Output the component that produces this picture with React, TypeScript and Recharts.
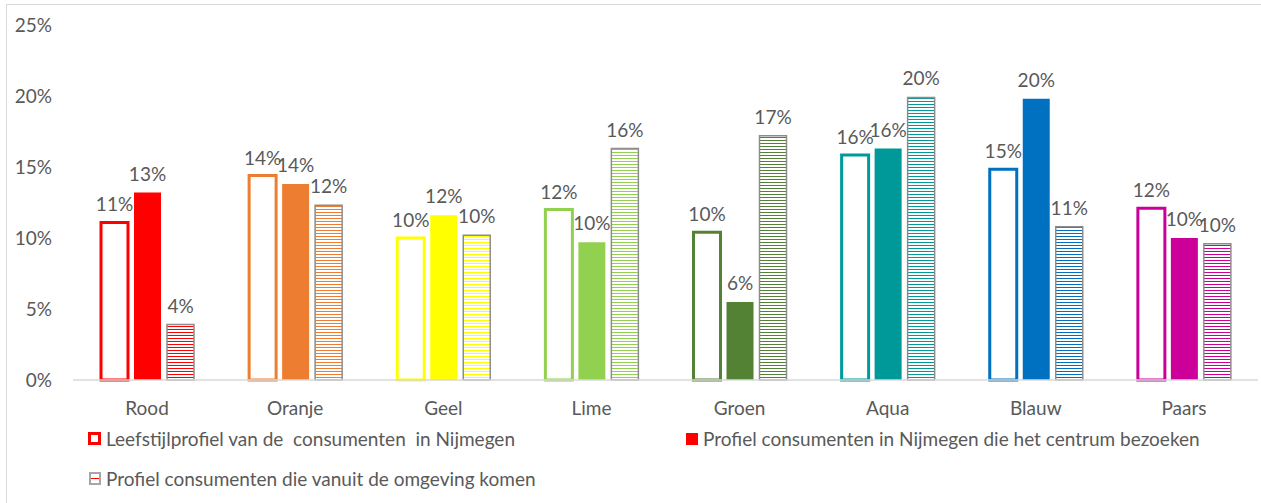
import { BarChart, Bar, XAxis, YAxis, Cell, LabelList } from 'recharts';

const categories = ['Rood', 'Oranje', 'Geel', 'Lime', 'Groen', 'Aqua', 'Blauw', 'Paars'];
const colors = ['#FF0000', '#ED7D31', '#FFFF00', '#92D050', '#548235', '#009999', '#0070C0', '#CC0099'];

// percentages
const leefstijl = [11.1, 14.4, 10.0, 12.0, 10.4, 15.85, 14.85, 12.1];
const centrum = [13.2, 13.8, 11.6, 9.7, 5.5, 16.3, 19.8, 10.0];
const omgeving = [3.9, 12.3, 10.2, 16.3, 17.2, 19.9, 10.8, 9.6];

const yTicks = [0, 5, 10, 15, 20, 25];

const legendLabels = [
    'Leefstijlprofiel van de  consumenten  in Nijmegen',
    'Profiel consumenten in Nijmegen die het centrum bezoeken',
    'Profiel consumenten die vanuit de omgeving komen',
];

const data = categories.map((name, i) => ({
    name,
    leefstijl: leefstijl[i],
    centrum: centrum[i],
    omgeving: omgeving[i],
}));

const FONT = 'Lato, "Open Sans", sans-serif';
const TEXT = '#595959';

const pct = (v: any) => `${Math.round(Number(v))}%`;

function LegendItem({ kind, label, style }: { kind: number; label: string; style: React.CSSProperties }) {
    let icon: React.ReactNode;
    if (kind === 0) {
        icon = <span style={{ display: 'inline-block', width: 13, height: 13, boxSizing: 'border-box', border: '3px solid #FF0000', background: '#fff' }} />;
    } else if (kind === 1) {
        icon = <span style={{ display: 'inline-block', width: 12, height: 12, background: '#FF0000' }} />;
    } else {
        icon = (
            <span style={{ display: 'inline-block', width: 12, height: 13, boxSizing: 'border-box', border: '2px solid #a6a6a6', position: 'relative', background: '#fff' }}>
                <span style={{ position: 'absolute', left: 0, right: 0, top: 4, height: 1, background: '#FF0000' }} />
            </span>
        );
    }
    return (
        <div style={{ position: 'absolute', display: 'flex', alignItems: 'center', gap: 5, ...style }}>
            {icon}
            <span style={{ whiteSpace: 'pre', fontFamily: FONT, fontSize: 19, color: TEXT }}>{label}</span>
        </div>
    );
}

export default function App() {
    return (
        <div
            style={{
                position: 'absolute', left: 6, top: 4, width: 1270, height: 510,
                border: '1px solid #d9d9d9', background: '#fff', overflow: 'hidden',
            }}
        >
            <BarChart
                width={1254}
                height={498}
                data={data}
                margin={{ top: 20, right: 3, left: 0, bottom: 83 }}
                barSize={27}
                barGap={6}
            >
                <defs>
                    {colors.map((c, i) => (
                        <pattern key={i} id={`stripe-${i}`} patternUnits="userSpaceOnUse" width={8} height={3}>
                            <rect x={0} y={0} width={8} height={3} fill="#fff" />
                            <rect x={0} y={0} width={8} height={1} fill={c} />
                        </pattern>
                    ))}
                </defs>
                <XAxis
                    dataKey="name"
                    height={40}
                    axisLine={{ stroke: '#d9d9d9', strokeWidth: 1.5 }}
                    tickLine={false}
                    tickSize={0}
                    tickMargin={22}
                    tick={{ fill: TEXT, fontSize: 19, fontFamily: FONT }}
                />
                <YAxis
                    width={66}
                    domain={[0, 25]}
                    ticks={yTicks}
                    axisLine={false}
                    tickLine={false}
                    tickSize={0}
                    tickMargin={21}
                    tickFormatter={v => `${v}%`}
                    tick={{ fill: TEXT, fontSize: 19, fontFamily: FONT }}
                />
                <Bar dataKey="leefstijl" isAnimationActive={false} strokeWidth={3}>
                    {colors.map((c, i) => <Cell key={i} fill="#fff" stroke={c} />)}
                    <LabelList dataKey="leefstijl" position="top" offset={11} formatter={pct}
                        style={{ fill: TEXT, fontSize: 19, fontFamily: FONT }} />
                </Bar>
                <Bar dataKey="centrum" isAnimationActive={false}>
                    {colors.map((c, i) => <Cell key={i} fill={c} />)}
                    <LabelList dataKey="centrum" position="top" offset={12} formatter={pct}
                        style={{ fill: TEXT, fontSize: 19, fontFamily: FONT }} />
                </Bar>
                <Bar dataKey="omgeving" isAnimationActive={false} strokeWidth={1.5}>
                    {colors.map((c, i) => <Cell key={i} fill={`url(#stripe-${i})`} stroke="#8c8c8c" />)}
                    <LabelList dataKey="omgeving" position="top" offset={12} formatter={pct}
                        style={{ fill: TEXT, fontSize: 19, fontFamily: FONT }} />
                </Bar>
            </BarChart>
            <LegendItem kind={0} label={legendLabels[0]} style={{ left: 81, top: 422 }} />
            <LegendItem kind={1} label={legendLabels[1]} style={{ left: 679, top: 422 }} />
            <LegendItem kind={2} label={legendLabels[2]} style={{ left: 82, top: 462 }} />
        </div>
    );
}
